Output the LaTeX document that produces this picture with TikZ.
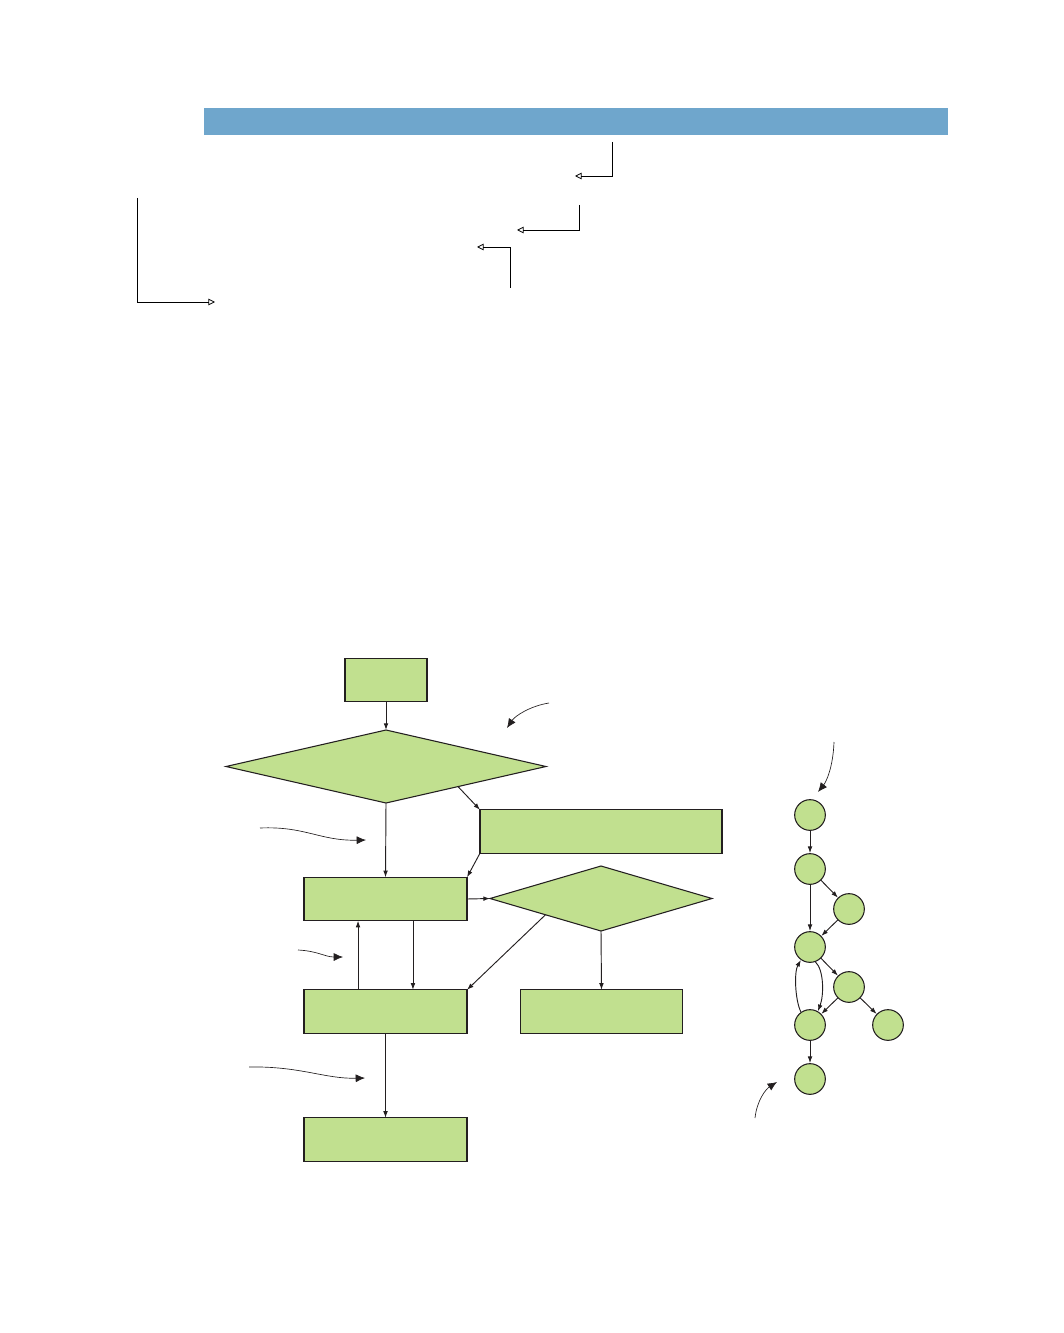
\documentclass[tikz,border=0pt]{standalone}
\usetikzlibrary{arrows.meta,shapes.geometric,calc}
\definecolor{boxgreen}{HTML}{C1E08F}
\definecolor{barblue}{HTML}{6FA6CC}
\definecolor{edgeblack}{HTML}{231F20}
\tikzset{
  flowbox/.style={draw=edgeblack,fill=boxgreen,line width=0.8pt,inner sep=0pt,outer sep=0pt,minimum width=#1,minimum height=32.5pt},
  flowdiam/.style 2 args={diamond,draw=edgeblack,fill=boxgreen,line width=0.8pt,inner sep=0pt,outer sep=0pt,minimum width=#1,minimum height=#2},
  gnode/.style={circle,draw=edgeblack,fill=boxgreen,line width=0.8pt,inner sep=0pt,minimum size=23pt},
  flowarr/.style={draw=edgeblack,line width=0.7pt,-{Latex[length=5pt,width=3.5pt]}},
  notearr/.style={draw=edgeblack,line width=0.5pt,-{Latex[length=7pt,width=6pt]}},
  openarr/.style={draw=black,line width=0.6pt,-{Triangle[open,length=5pt,width=5pt]}}
}
\begin{document}
\begin{tikzpicture}[x=0.75pt,y=-0.75pt]
    \useasboundingbox (0,0) rectangle (1063,1333);
    \fill[barblue] (204,108) rectangle (948,135); %header bar
    % bracket arrows under the bar
    \coordinate (t1a) at (612,142); \coordinate (t1b) at (575,176);
    \coordinate (t2a) at (579,205); \coordinate (t2b) at (517,230);
    \coordinate (t3a) at (510,288); \coordinate (t3b) at (477,247);
    \coordinate (t4a) at (137,198); \coordinate (t4b) at (215,302);
    \draw[openarr] (t1a) |- (t1b);
    \draw[openarr] (t2a) |- (t2b);
    \draw[openarr] (t3a) |- (t3b);
    \draw[openarr] (t4a) |- (t4b);
    % flow chart
    \node[flowbox=61.5pt] (start) at (386,680) {};
    \node[flowdiam={240pt}{54.75pt}] (dA) at (386,766.5) {};
    \node[flowbox=181.5pt] (bR) at (601,831.5) {};
    \node[flowbox=122.25pt] (b2) at (385.5,899) {};
    \node[flowdiam={166.5pt}{48.75pt}] (dB) at (601,898.5) {};
    \node[flowbox=122.25pt] (b3) at (385.5,1011.5) {};
    \node[flowbox=121pt] (b4) at (601.5,1011.5) {};
    \node[flowbox=122.25pt] (b5) at (385.5,1139.5) {};
    \draw[flowarr] ($(dA.south)!0.45!(dA.east)$) -- (bR.north west);
    \draw[flowarr] (start) -- (dA);
    \draw[flowarr] (dA.south) -- (b2.north);
    \draw[flowarr] (bR.south west) -- (b2.north east);
    \draw[flowarr] (b2.east) -- (dB.west);
    \draw[flowarr] (dB.south) -- (b4.north);
    \draw[flowarr] (dB.south west) -- (b3.north east);
    \draw[flowarr] ([xshift=20.6pt]b2.south) -- ([xshift=20.6pt]b3.north);
    \draw[flowarr] ([xshift=-20.6pt]b3.north) -- ([xshift=-20.6pt]b2.south);
    \draw[flowarr] (b3.south) -- (b5.north);
    % graph
    \node[gnode] (n1) at (810,815) {};
    \node[gnode] (n2) at (810,869) {};
    \node[gnode] (n3) at (849,909) {};
    \node[gnode] (n4) at (810,947) {};
    \node[gnode] (n5) at (849,987) {};
    \node[gnode] (n6) at (810,1025) {};
    \node[gnode] (n7) at (888,1025) {};
    \node[gnode] (n8) at (810,1079) {};
    \draw[flowarr] (n1) -- (n2);
    \draw[flowarr] (n2) -- (n4);
    \draw[flowarr] (n2) -- (n3);
    \draw[flowarr] (n3) -- (n4);
    \draw[flowarr] (n4) -- (n5);
    \draw[flowarr] (n5) -- (n6);
    \draw[flowarr] (n5) -- (n7);
    \draw[flowarr] (n6) -- (n8);
    \draw[flowarr] (n4.290) .. controls (824,970) and (824,995) .. (n6.60);
    \draw[flowarr] (n6.125) .. controls (795,1000) and (794,972) .. (n4.235);
    % callout arrows
    \coordinate (a1s) at (549,703); \coordinate (a1e) at (507,728);
    \coordinate (a2s) at (260,828); \coordinate (a2e) at (366,840);
    \coordinate (a3s) at (298,950); \coordinate (a3e) at (343,957);
    \coordinate (a4s) at (249,1067); \coordinate (a4e) at (365,1078);
    \coordinate (a5s) at (834,742); \coordinate (a5e) at (818,792);
    \coordinate (a6s) at (755,1118); \coordinate (a6e) at (777,1082);
    \draw[notearr] (a1s) .. controls (530,706) and (515,716) .. (a1e);
    \draw[notearr] (a2s) .. controls (305,826) and (320,841) .. (a2e);
    \draw[notearr] (a3s) .. controls (318,951) and (325,957) .. (a3e);
    \draw[notearr] (a4s) .. controls (300,1066) and (325,1079) .. (a4e);
    \draw[notearr] (a5s) .. controls (833,768) and (826,782) .. (a5e);
    \draw[notearr] (a6s) .. controls (757,1100) and (766,1089) .. (a6e);
\end{tikzpicture}
\end{document}
